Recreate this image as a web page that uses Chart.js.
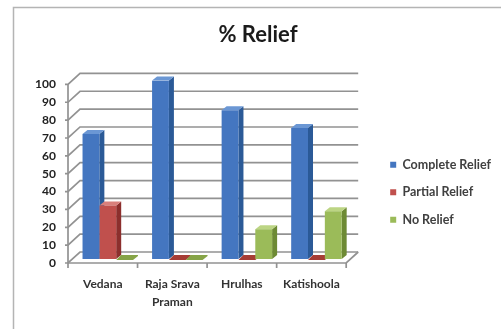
<!DOCTYPE html>
<html>
<head>
<meta charset="utf-8">
<script src="https://cdn.jsdelivr.net/npm/chart.js@4/dist/chart.umd.min.js"></script>
<style>
  html, body { margin: 0; padding: 0; background: #fff; }
  #wrap { position: relative; width: 501px; height: 329px; }
</style>
</head>
<body>
<div id="wrap"><canvas id="c" width="501" height="329"></canvas></div>
<script>
// Categories and series (% of patients)
const categories = ['Vedana', ['Raja Srava', 'Praman'], 'Hrulhas', 'Katishoola'];
const seriesNames = ['Complete Relief', 'Partial Relief', 'No Relief'];
const completeRelief = [70, 100, 83.33, 73.33];
const partialRelief = [30, 0, 0, 0];
const noRelief = [0, 0, 16.67, 26.67];
const valueTicks = [0, 10, 20, 30, 40, 50, 60, 70, 80, 90, 100];

// Face colours for each series: front, side, top, and a flat slab for zero values
const faceColors = [
  { front: '#4476c0', side: '#2b5a97', top: '#6b97d4', flat: '#3a68ac' },
  { front: '#c0504d', side: '#8c2f2d', top: '#d9807c', flat: '#a63d35' },
  { front: '#9bbb59', side: '#6d8a34', top: '#bcd584', flat: '#86a447' }
];

// Oblique projection: front edge of floor/left wall and back wall,
// relative to the plane in which the bar fronts sit
const WALL = { fx: -5, fy: 4, bx: 7, by: -7 };
const BAR_DEPTH = { x: 5, y: 4 };

function poly(ctx, pts, fill) {
  ctx.beginPath();
  ctx.moveTo(pts[0][0], pts[0][1]);
  for (let i = 1; i < pts.length; i++) ctx.lineTo(pts[i][0], pts[i][1]);
  ctx.closePath();
  ctx.fillStyle = fill;
  ctx.fill();
}

const box3d = {
  id: 'box3d',
  beforeDraw(chart) {
    const ctx = chart.ctx;
    ctx.save();
    ctx.fillStyle = '#fff';
    ctx.fillRect(0, 0, chart.width, chart.height);
    // outer frame
    ctx.strokeStyle = '#b4b4b4';
    ctx.lineWidth = 1.5;
    ctx.beginPath();
    ctx.moveTo(13.5, chart.height);
    ctx.lineTo(13.5, 7.5);
    ctx.lineTo(chart.width, 7.5);
    ctx.stroke();
    ctx.restore();
  },
  beforeDatasetsDraw(chart) {
    const { ctx, chartArea: a, scales: { x, y } } = chart;
    ctx.save();
    ctx.lineWidth = 1.7;
    ctx.strokeStyle = '#929292';
    const y0 = y.getPixelForValue(0);

    // back wall and left wall gridlines
    for (const t of y.ticks) {
      const py = y.getPixelForValue(t.value);
      ctx.beginPath();
      ctx.moveTo(a.left + WALL.fx - 3, py + WALL.fy);
      ctx.lineTo(a.left + WALL.fx, py + WALL.fy);
      ctx.lineTo(a.left + WALL.bx, py + WALL.by);
      ctx.lineTo(a.right + WALL.bx, py + WALL.by);
      ctx.stroke();
    }
    // front edge of the left wall
    ctx.beginPath();
    ctx.moveTo(a.left + WALL.fx, y.getPixelForValue(100) + WALL.fy);
    ctx.lineTo(a.left + WALL.fx, y0 + WALL.fy);
    ctx.stroke();

    // floor front and right edges
    ctx.beginPath();
    ctx.moveTo(a.left + WALL.fx, y0 + WALL.fy);
    ctx.lineTo(a.right + WALL.fx, y0 + WALL.fy);
    ctx.lineTo(a.right + WALL.bx, y0 + WALL.by);
    ctx.stroke();

    // category tick marks under the floor
    for (let i = 0; i <= categories.length; i++) {
      const px = x.getPixelForValue(i - 0.5) + WALL.fx;
      ctx.beginPath();
      ctx.moveTo(px, y0 + WALL.fy);
      ctx.lineTo(px, y0 + WALL.fy + 5);
      ctx.stroke();
    }

    // side and top faces of every bar (fronts are drawn by the bar controller on top)
    chart.data.datasets.forEach((ds, di) => {
      const meta = chart.getDatasetMeta(di);
      const c = faceColors[di];
      meta.data.forEach(el => {
        const l = el.x - el.width / 2, r = el.x + el.width / 2;
        const top = Math.min(el.y, el.base), bot = Math.max(el.y, el.base);
        const dx = BAR_DEPTH.x, dy = BAR_DEPTH.y;
        if (bot - top < 0.5) {
          poly(ctx, [[l, top + 1], [l + dx, top - dy], [r + dx, top - dy], [r + dx, top - dy + 1], [r, top + 1]], c.flat);
          return;
        }
        poly(ctx, [[r, top], [r + dx, top - dy], [r + dx, bot - dy], [r, bot]], c.side);
        poly(ctx, [[l, top], [l + dx, top - dy], [r + dx, top - dy], [r, top]], c.top);
      });
    });
    ctx.restore();
  }
};

const datasets = [completeRelief, partialRelief, noRelief].map((vals, i) => ({
  label: seriesNames[i],
  data: vals,
  backgroundColor: faceColors[i].front,
  borderWidth: 0,
  categoryPercentage: 0.726,
  barPercentage: 1.0
}));

new Chart(document.getElementById('c'), {
  type: 'bar',
  data: { labels: categories, datasets },
  plugins: [box3d],
  options: {
    responsive: false,
    animation: false,
    devicePixelRatio: 1,
    layout: { padding: { left: 15, right: 0, top: 0, bottom: 2 } },
    plugins: {
      title: {
        display: true,
        text: '% Relief',
        color: '#1a1a1a',
        font: { family: 'Lato', size: 22, weight: 'bold' },
        padding: { top: 22, bottom: 32 }
      },
      legend: {
        position: 'right',
        align: 'center',
        maxWidth: 140,
        title: {
          display: true,
          text: '',
          font: { family: 'Lato', size: 12 },
          padding: { top: 0, bottom: 43 }
        },
        labels: {
          boxWidth: 6,
          boxHeight: 6,
          padding: 15,
          color: '#404040',
          font: { family: 'Lato', size: 12.5, weight: 'bold' }
        }
      },
      tooltip: { enabled: false }
    },
    scales: {
      x: {
        grid: { display: false, drawTicks: false },
        border: { display: false },
        ticks: {
          color: '#333',
          font: { family: 'Lato', size: 12, weight: 'bold', lineHeight: 1.5 },
          padding: 16,
          labelOffset: -5,
          maxRotation: 0,
          autoSkip: false
        }
      },
      y: {
        min: 0,
        max: 100,
        afterBuildTicks: s => { s.ticks = valueTicks.map(v => ({ value: v })); },
        afterFit: s => { s.width = 58; },
        grid: { display: false, drawTicks: false },
        border: { display: false },
        ticks: {
          color: '#222',
          font: { family: 'Lato', size: 12, weight: 'bold' },
          padding: 17,
          labelOffset: 4,
          autoSkip: false
        }
      },
      gap: {
        position: 'right',
        display: false,
        afterFit: s => { s.width = 24; }
      }
    }
  }
});
</script>
</body>
</html>
